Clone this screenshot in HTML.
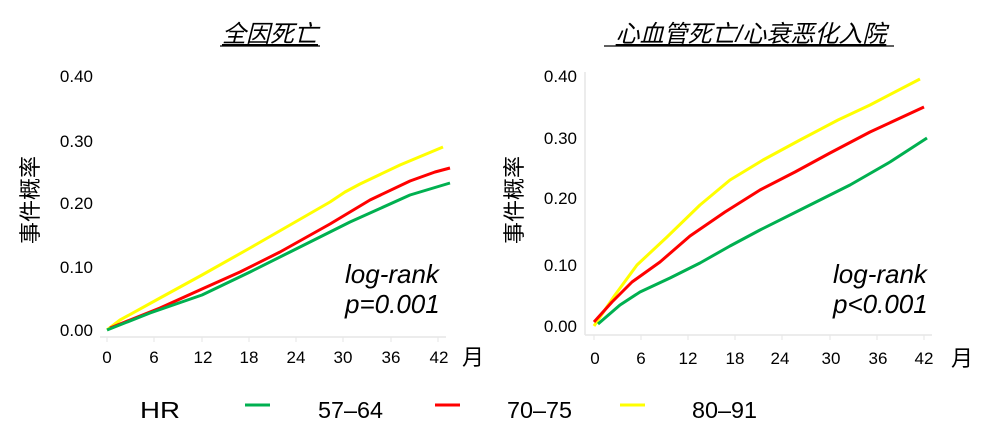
<!DOCTYPE html>
<html><head><meta charset="utf-8"><style>
html,body{margin:0;padding:0;background:#fff;}
svg{display:block;}
text{font-family:"Liberation Sans","Noto Sans CJK SC",sans-serif;fill:#000;}
</style></head><body>
<svg width="986" height="440" viewBox="0 0 986 440" xmlns="http://www.w3.org/2000/svg">
<text x="270" y="42" font-size="24" font-style="italic" text-anchor="middle" text-decoration="underline">全因死亡</text>
<line x1="220" y1="46" x2="320" y2="46" stroke="#000" stroke-width="1.2"/>
<text transform="translate(38,200) rotate(-90)" font-size="22" text-anchor="middle">事件概率</text>
<g font-size="17" text-anchor="end">
<text x="93" y="82">0.40</text><text x="93" y="147">0.30</text><text x="93" y="209">0.20</text><text x="93" y="273">0.10</text><text x="93" y="336">0.00</text>
</g>
<line x1="100" y1="337" x2="446" y2="337" stroke="#e6e6e6" stroke-width="1.5"/>
<g stroke="#e6e6e6" stroke-width="1">
<line x1="107" y1="337" x2="107" y2="342"/><line x1="154" y1="337" x2="154" y2="342"/><line x1="202" y1="337" x2="202" y2="342"/><line x1="249" y1="337" x2="249" y2="342"/><line x1="296" y1="337" x2="296" y2="342"/><line x1="343" y1="337" x2="343" y2="342"/><line x1="391" y1="337" x2="391" y2="342"/><line x1="438" y1="337" x2="438" y2="342"/>
</g>
<g font-size="17" text-anchor="middle">
<text x="107" y="363">0</text><text x="154" y="363">6</text><text x="203" y="363">12</text><text x="249" y="363">18</text><text x="296" y="363">24</text><text x="343" y="363">30</text><text x="391" y="363">36</text><text x="439" y="363">42</text>
</g>
<text x="462" y="365" font-size="22">月</text>
<g fill="none" stroke-width="3" stroke-linejoin="round">
<polyline stroke="#ffff00" points="107,330 120,320 160,298 202,275 250,248 290,225 330,202 345,192 360,184 400,165 443,147"/>
<polyline stroke="#ff0000" points="110,328 125,322 160,308 202,289 240,272 280,252 330,224 370,200 410,181 435,172 450,168"/>
<polyline stroke="#00b050" points="107,330 150,313 202,295 250,272 290,252 350,222 410,195 450,183"/>
</g>
<g font-size="26" font-style="italic">
<text x="345" y="283">log-rank</text>
<text x="345" y="313">p=0.001</text>
</g>
<text x="751" y="42" font-size="24" font-style="italic" text-anchor="middle" text-decoration="underline">心血管死亡/心衰恶化入院</text>
<line x1="604" y1="46" x2="894" y2="46" stroke="#000" stroke-width="1.2"/>
<text transform="translate(522,200) rotate(-90)" font-size="22" text-anchor="middle">事件概率</text>
<g font-size="17" text-anchor="end">
<text x="577" y="82">0.40</text><text x="577" y="144">0.30</text><text x="577" y="204">0.20</text><text x="577" y="271">0.10</text><text x="577" y="332">0.00</text>
</g>
<line x1="585" y1="72" x2="585" y2="335" stroke="#e6e6e6" stroke-width="1.5"/>
<line x1="585" y1="335" x2="932" y2="335" stroke="#e6e6e6" stroke-width="1.5"/>
<g stroke="#e6e6e6" stroke-width="1">
<line x1="594" y1="335" x2="594" y2="340"/><line x1="641" y1="335" x2="641" y2="340"/><line x1="688" y1="335" x2="688" y2="340"/><line x1="735" y1="335" x2="735" y2="340"/><line x1="782" y1="335" x2="782" y2="340"/><line x1="830" y1="335" x2="830" y2="340"/><line x1="877" y1="335" x2="877" y2="340"/><line x1="924" y1="335" x2="924" y2="340"/>
</g>
<g font-size="17" text-anchor="middle">
<text x="595" y="364">0</text><text x="641" y="364">6</text><text x="688" y="364">12</text><text x="735" y="364">18</text><text x="780" y="364">24</text><text x="831" y="364">30</text><text x="878" y="364">36</text><text x="924" y="364">42</text>
</g>
<text x="951" y="366" font-size="22">月</text>
<g fill="none" stroke-width="3" stroke-linejoin="round">
<polyline stroke="#ffff00" points="594,326 615,295 637,265 667,237 700,205 730,180 763,160 800,140 838,120 870,105 920,79"/>
<polyline stroke="#ff0000" points="594,322 612,302 632,282 660,262 690,236 725,212 760,190 795,172 830,153 870,132 924,107"/>
<polyline stroke="#00b050" points="598,324 620,305 640,292 670,278 700,263 730,246 760,230 800,210 850,185 890,162 927,138"/>
</g>
<g font-size="26" font-style="italic">
<text x="833" y="283">log-rank</text>
<text x="833" y="313">p&lt;0.001</text>
</g>
<g font-size="23">
<text x="140" y="418" textLength="40" lengthAdjust="spacingAndGlyphs">HR</text>
<text x="318" y="418" textLength="65" lengthAdjust="spacingAndGlyphs">57–64</text>
<text x="507" y="418" textLength="65" lengthAdjust="spacingAndGlyphs">70–75</text>
<text x="692" y="418" textLength="65" lengthAdjust="spacingAndGlyphs">80–91</text>
</g>
<line x1="245" y1="405" x2="270" y2="405" stroke="#00b050" stroke-width="3"/>
<line x1="435" y1="405" x2="460" y2="405" stroke="#ff0000" stroke-width="3"/>
<line x1="620" y1="405" x2="645" y2="405" stroke="#ffff00" stroke-width="3"/>
</svg>
</body></html>
